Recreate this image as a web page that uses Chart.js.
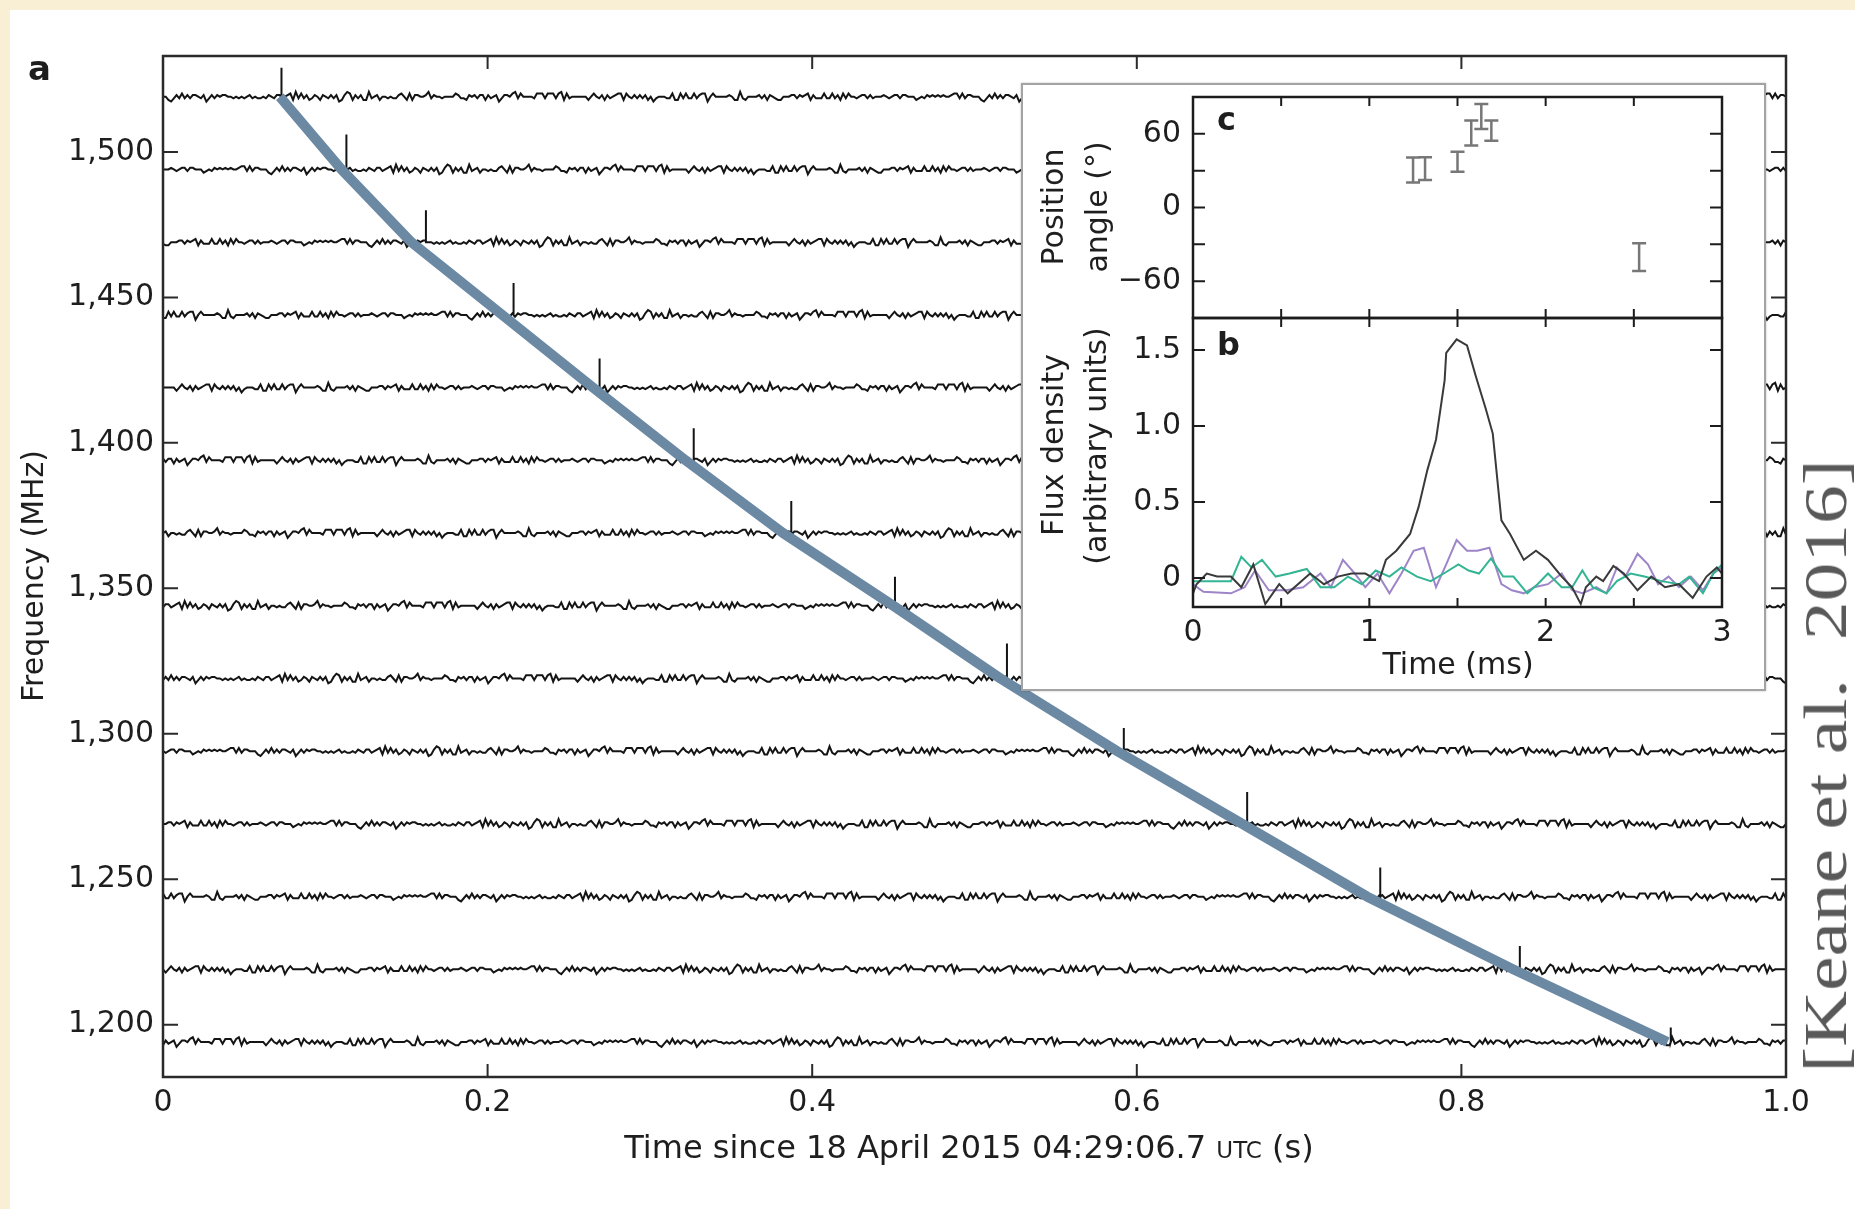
<!DOCTYPE html>
<html>
<head>
<meta charset="utf-8">
<script src="https://cdn.jsdelivr.net/npm/chart.js@4.4.1/dist/chart.umd.min.js"></script>
<style>
  html, body { margin: 0; padding: 0; }
  body { width: 1855px; height: 1209px; background: #f8efd4; position: relative; overflow: hidden; }
  #sheet { position: absolute; left: 10px; top: 10px; width: 1845px; height: 1199px; background: #fff; }
  #main { position: absolute; left: 0; top: 0; }
  #inset {
    position: absolute; left: 1021px; top: 83px; width: 745px; height: 608px;
    box-sizing: border-box; border: 2px solid #a3a3a3; background: #fff;
    box-shadow: 0 0 2px rgba(0, 0, 0, 0.25);
  }
  #insetC, #insetB { position: absolute; left: 0; }
  #insetC { top: 0; }
  #insetB { top: 223px; }
  #cite {
    position: absolute; left: 1825px; top: 766px;
    font-family: "Liberation Serif", "Times New Roman", serif; font-size: 62px; line-height: 62px;
    color: #595959; white-space: nowrap;
    transform: translate(-50%, -50%) rotate(-90deg) scaleX(1.25);
  }
</style>
</head>
<body>
<div id="sheet"></div>
<canvas id="main" width="1855" height="1209"></canvas>
<div id="inset">
  <canvas id="insetC" width="741" height="245"></canvas>
  <canvas id="insetB" width="741" height="381"></canvas>
</div>
<div id="cite">[Keane et al.&nbsp; 2016]</div>

<script>
// panel a: one noisy trace per frequency channel
const CHANNEL_MHZ = [1519, 1494, 1469, 1444, 1419, 1394, 1369, 1344, 1319, 1294, 1269, 1244, 1219, 1194];
const PULSE_TIME_S = [0.073, 0.113, 0.162, 0.216, 0.269, 0.327, 0.387, 0.451, 0.520, 0.592, 0.668, 0.750, 0.836, 0.929];
const PULSE_HEIGHT_MHZ = [10, 12, 11, 11, 10, 11, 11, 10, 12, 8, 11, 10, 8, 5];
// hand drawn dispersion sweep (blue)
const SWEEP_TIME_S = [0.072, 0.110, 0.153, 0.209, 0.265, 0.322, 0.382, 0.450, 0.516, 0.588, 0.665, 0.742, 0.832, 0.927];
// baseline wiggle, in steps of NOISE_STEP_MHZ
const NOISE = [
  0, 1, -1, 2, 0, -2, 1, 0, -1, 1, 3, -1, 0, 1, -2, 0, 2, -1, 1, 0,
  -1, -3, 1, 0, 2, -1, 0, 1, -1, 2, -2, 0, 1, 0, -1, 1, -2, 2, 0, -1,
  1, 0, -1, 3, -2, 0, 1, -1, 0, 2, -1, 1, 0, -2, 1, 0, -1, 2, 1, -1,
  0, -2, 1, 1, -1, 0, 2, -3, 1, 0, -1, 1, 0, 2, -1, 0, -1, 1, -2, 1,
  2, 0, -1, 0, 1, -1, 3, -1, 0, -2, 1, 0, 1, -1, 2, 0, -2, 1, -1, 0,
  1, 2, -1, 0, -1, 1, -2, 0, 2, -1, 0, 1, -3, 1, 0, -1, 2, 0, 1, -1,
  0, -1, 2, -2, 1, 0, 1, -1, 0, 3, -2, 1, 0, -1, 1, 0, -2, 2, -1, 0,
  1, -1, 0, 2, -1, 1, -2, 0, 1, 0, -1, 2, 0, -1, 1, -3, 2, 0, -1, 1,
  0, 1, -2, 1, 0, -1, 2, -1, 0, 1, -1, 0, 2, -2, 1, 0, 3, -1, 0, -1,
  1, 0, -1, 2, -2, 0, 1, -1, 1, 0, -2, 1, 0, 2, -1, 0, -1, 1, 0, -2,
  2, -1, 1, 0, -1, 1, 0, -3, 2, 0, -1, 1, -1, 2, 0, -1, 1, 0, -2, 1,
  0, 2, -1, 0, 1, -2, 1, -1, 0, 2, 0, -1, 3, -2, 1, 0, -1, 1, 0, -1,
  1, -2, 0, 1, 2, -1, 0, -1, 1, 0, -2, 2, -1, 1, 0, -1, 0, 2, -1, 0,
  -2, 1, 0, 1, -1, 2, -1, 0, -3, 1, 0, 2, -1, 1, 0, -1, 2, -2, 0, 1,
  0, -1, 1, 2, -2, 0, 1, -1, 0, 1, -2, 3, -1, 0, 1, -1, 0, 2, -1, 0
];
const NOISE_STEP_MHZ = 0.55;
const SAMPLES = 600;
const X_TICKS = [0, 0.2, 0.4, 0.6, 0.8, 1.0];
const Y_TICKS = [1200, 1250, 1300, 1350, 1400, 1450, 1500];

// panel c: position angle
const PA_TIME_MS = [1.248, 1.316, 1.50, 1.578, 1.635, 1.692, 2.53];
const PA_DEG = [30.6, 31.7, 37.3, 60.6, 74.2, 62.6, -40.5];
const PA_ERR_DEG = [10.2, 9.2, 8.2, 10.2, 10.2, 8.2, 11.3];
const PA_TICKS = [-60, -30, 0, 30, 60];
const PA_LABELS = [-60, 0, 60];

// panel b: flux density profiles
const TOTAL_T = [0, 0.02, 0.078, 0.137, 0.215, 0.274, 0.342, 0.41, 0.489, 0.537, 0.664, 0.743, 0.821, 0.899, 0.977, 1.055, 1.094, 1.153, 1.231, 1.28, 1.329, 1.378, 1.427, 1.436, 1.495, 1.554, 1.603, 1.661, 1.7, 1.749, 1.798, 1.876, 1.945, 2.013, 2.091, 2.15, 2.199, 2.228, 2.287, 2.326, 2.384, 2.443, 2.521, 2.599, 2.677, 2.756, 2.834, 2.912, 2.971, 3.0];
const TOTAL_I = [-0.10, -0.04, 0.03, 0.01, 0.01, -0.06, 0.09, -0.17, -0.04, -0.10, 0.03, -0.04, 0.01, 0.03, 0.03, -0.02, 0.12, 0.18, 0.29, 0.47, 0.71, 0.91, 1.30, 1.48, 1.57, 1.53, 1.33, 1.11, 0.95, 0.38, 0.29, 0.12, 0.18, 0.12, 0.01, -0.06, -0.17, -0.06, 0.01, -0.02, 0.08, 0.03, -0.08, 0.01, -0.06, -0.04, -0.13, 0.01, 0.07, 0.03];
const LIN_T = [0, 0.059, 0.215, 0.293, 0.352, 0.43, 0.528, 0.625, 0.723, 0.782, 0.85, 0.918, 0.977, 1.046, 1.114, 1.182, 1.251, 1.309, 1.378, 1.436, 1.495, 1.554, 1.612, 1.681, 1.749, 1.808, 1.876, 1.935, 2.013, 2.091, 2.15, 2.208, 2.287, 2.345, 2.404, 2.453, 2.521, 2.58, 2.638, 2.697, 2.756, 2.824, 2.892, 2.951, 3.0];
const LIN_I = [-0.04, -0.09, -0.10, -0.06, 0.05, -0.08, -0.08, -0.06, 0.03, -0.06, 0.12, 0.03, -0.06, 0.03, -0.10, 0.03, 0.18, 0.20, -0.06, 0.09, 0.25, 0.18, 0.18, 0.20, -0.04, -0.08, -0.10, -0.06, -0.04, 0.03, -0.08, -0.10, -0.06, -0.10, 0.07, 0.01, 0.16, 0.09, -0.04, 0.01, -0.06, 0.01, -0.08, 0.03, 0.07];
const CIRC_T = [0, 0.098, 0.215, 0.274, 0.332, 0.391, 0.469, 0.547, 0.645, 0.723, 0.801, 0.879, 0.958, 1.036, 1.114, 1.182, 1.27, 1.348, 1.436, 1.505, 1.563, 1.622, 1.69, 1.759, 1.817, 1.896, 1.954, 2.013, 2.091, 2.15, 2.208, 2.267, 2.345, 2.404, 2.482, 2.56, 2.658, 2.756, 2.814, 2.892, 2.951, 3.0];
const CIRC_I = [-0.02, -0.02, -0.02, 0.14, 0.07, 0.12, 0.01, 0.03, 0.06, -0.06, -0.06, 0.01, -0.04, 0.05, 0.01, 0.07, 0.01, -0.02, 0.04, 0.09, 0.05, 0.03, 0.13, 0.01, 0.01, -0.10, -0.04, 0.03, -0.06, -0.06, 0.05, -0.06, -0.10, -0.02, 0.03, 0.01, -0.02, -0.04, 0.01, -0.10, 0.03, 0.09];
const FLUX_TICKS = [0, 0.5, 1.0, 1.5];
const MS_TICKS = [0, 0.5, 1, 1.5, 2, 2.5, 3];
const MS_LABELS = [0, 1, 2, 3];

const TEXT = "#1e1e1e";
const FONT = "'DejaVu Sans', 'Liberation Sans', sans-serif";
Chart.defaults.font.family = FONT;
Chart.defaults.color = TEXT;

function zip(xs, ys) {
  return xs.map((x, i) => ({ x, y: ys[i] }));
}

function traceData(k) {
  const base = CHANNEL_MHZ[k];
  const n = NOISE.length;
  const t = PULSE_TIME_S[k];
  const points = [];
  let spikeDone = false;
  for (let i = 0; i < SAMPLES; i++) {
    const x = i / (SAMPLES - 1);
    if (!spikeDone && x > t) {
      points.push({ x: t, y: base });
      points.push({ x: t, y: base + PULSE_HEIGHT_MHZ[k] });
      points.push({ x: t, y: base });
      spikeDone = true;
    }
    points.push({ x, y: base + NOISE[(i * 7 + 41 * k) % n] * NOISE_STEP_MHZ });
  }
  return points;
}

// closed frame with inward ticks on all four sides
const framePlugin = {
  id: "frame",
  afterDatasetsDraw(chart, args, o) {
    const { ctx, chartArea: a, scales } = chart;
    ctx.save();
    ctx.strokeStyle = o.color;
    ctx.lineWidth = o.tickWidth;
    ctx.beginPath();
    o.xTicks.forEach((v) => {
      const p = scales.x.getPixelForValue(v);
      ctx.moveTo(p, a.bottom); ctx.lineTo(p, a.bottom - o.lenX);
      ctx.moveTo(p, a.top); ctx.lineTo(p, a.top + o.lenX);
    });
    o.yTicks.forEach((v) => {
      const p = scales.y.getPixelForValue(v);
      ctx.moveTo(a.left, p); ctx.lineTo(a.left + o.lenY, p);
      ctx.moveTo(a.right, p); ctx.lineTo(a.right - o.lenY, p);
    });
    ctx.stroke();
    ctx.lineWidth = o.width;
    ctx.strokeRect(a.left, a.top, a.right - a.left, a.bottom - a.top);
    ctx.restore();
  }
};

const textPlugin = {
  id: "texts",
  afterDraw(chart, args, o) {
    const ctx = chart.ctx;
    (o.items || []).forEach((it) => {
      ctx.save();
      ctx.translate(it.x, it.y);
      if (it.rotate) ctx.rotate(it.rotate);
      ctx.fillStyle = TEXT;
      ctx.textBaseline = it.baseline || "alphabetic";
      ctx.textAlign = "left";
      const parts = it.parts || [{ text: it.text, font: it.font }];
      let total = 0;
      parts.forEach((p) => { ctx.font = p.font; p.w = ctx.measureText(p.text).width; total += p.w; });
      let cx = it.align === "left" ? 0 : -total / 2;
      parts.forEach((p) => { ctx.font = p.font; ctx.fillText(p.text, cx, 0); cx += p.w; });
      ctx.restore();
    });
  }
};

const errorBarPlugin = {
  id: "errorBars",
  afterDatasetsDraw(chart, args, o) {
    const { ctx, scales: { x, y } } = chart;
    ctx.save();
    ctx.strokeStyle = o.color;
    ctx.lineWidth = o.width;
    ctx.beginPath();
    PA_TIME_MS.forEach((t, i) => {
      const px = x.getPixelForValue(t);
      const top = y.getPixelForValue(PA_DEG[i] + PA_ERR_DEG[i]);
      const bot = y.getPixelForValue(PA_DEG[i] - PA_ERR_DEG[i]);
      ctx.moveTo(px, top); ctx.lineTo(px, bot);
      ctx.moveTo(px - o.cap, top); ctx.lineTo(px + o.cap, top);
      ctx.moveTo(px - o.cap, bot); ctx.lineTo(px + o.cap, bot);
    });
    ctx.stroke();
    ctx.restore();
  }
};

function fixedTicks(values) {
  return (scale) => { scale.ticks = values.map((v) => ({ value: v })); };
}

// fixed axis size, and no extra room reserved for the end labels
function fixedWidth(w) {
  return (s) => { s.width = w; s.paddingTop = 0; s.paddingBottom = 0; };
}

const traces = CHANNEL_MHZ.map((f, k) => ({
  data: traceData(k),
  borderColor: "#141414",
  borderWidth: 2,
  pointRadius: 0
}));

const sweep = {
  data: zip(SWEEP_TIME_S, CHANNEL_MHZ),
  borderColor: "#6c89a4",
  borderWidth: 10,
  borderCapStyle: "butt",
  borderJoinStyle: "round",
  pointRadius: 0
};

new Chart(document.getElementById("main"), {
  type: "line",
  data: { datasets: [sweep, ...traces] },
  options: {
    animation: false,
    responsive: false,
    devicePixelRatio: 1,
    layout: { padding: { top: 56, right: 69, left: 0, bottom: 0 } },
    elements: { line: { tension: 0 } },
    plugins: {
      legend: { display: false },
      tooltip: { enabled: false },
      frame: { xTicks: X_TICKS, yTicks: Y_TICKS, lenX: 13, lenY: 15, color: "#2a2a2a", width: 2.5, tickWidth: 2 },
      texts: {
        items: [
          { text: "a", font: `bold 34px ${FONT}`, x: 28, y: 80, align: "left" },
          { text: "Frequency (MHz)", font: `30px ${FONT}`, x: 35, y: 576, rotate: -Math.PI / 2, baseline: "middle" },
          {
            x: 969, y: 1158,
            parts: [
              { text: "Time since 18 April 2015 04:29:06.7 ", font: `32px ${FONT}` },
              { text: "UTC", font: `23px ${FONT}` },
              { text: " (s)", font: `32px ${FONT}` }
            ]
          }
        ]
      }
    },
    scales: {
      x: {
        type: "linear", min: 0, max: 1,
        afterBuildTicks: fixedTicks(X_TICKS),
        afterFit: (s) => { s.height = 132; },
        grid: { display: false, drawTicks: false },
        border: { display: false },
        ticks: { font: { size: 30 }, padding: 8, maxRotation: 0, autoSkip: false,
          callback: (v) => (v === 0 ? "0" : v.toFixed(1)) }
      },
      y: {
        type: "linear", min: 1182, max: 1533,
        afterBuildTicks: fixedTicks(Y_TICKS),
        afterFit: fixedWidth(163),
        grid: { display: false, drawTicks: false },
        border: { display: false },
        ticks: { font: { size: 30 }, padding: 9, autoSkip: false,
          callback: (v) => v.toLocaleString("en-US") }
      }
    }
  },
  plugins: [framePlugin, textPlugin]
});

// inset c: position angle
new Chart(document.getElementById("insetC"), {
  type: "scatter",
  data: { datasets: [{ data: zip(PA_TIME_MS, PA_DEG), pointRadius: 0 }] },
  options: {
    animation: false,
    responsive: false,
    devicePixelRatio: 1,
    layout: { padding: { top: 12, right: 42, left: 0, bottom: 12 } },
    plugins: {
      legend: { display: false },
      tooltip: { enabled: false },
      frame: { xTicks: MS_TICKS, yTicks: PA_TICKS, lenX: 9, lenY: 12, color: "#1c1c1c", width: 2.5, tickWidth: 2 },
      errorBars: { color: "#777", width: 2.5, cap: 7 },
      texts: {
        items: [
          { text: "c", font: `bold 32px ${FONT}`, x: 194, y: 45, align: "left" },
          { text: "Position", font: `30px ${FONT}`, x: 32, y: 122, rotate: -Math.PI / 2, baseline: "middle" },
          { text: "angle (°)", font: `30px ${FONT}`, x: 76, y: 122, rotate: -Math.PI / 2, baseline: "middle" }
        ]
      }
    },
    scales: {
      x: { type: "linear", min: 0, max: 3, display: false },
      y: {
        type: "linear", min: -90, max: 90,
        afterBuildTicks: fixedTicks(PA_LABELS),
        afterFit: fixedWidth(170),
        grid: { display: false, drawTicks: false },
        border: { display: false },
        ticks: { font: { size: 30 }, padding: 12, autoSkip: false,
          callback: (v) => (v < 0 ? "\u2212" + Math.abs(v) : String(v)) }
      }
    }
  },
  plugins: [framePlugin, errorBarPlugin, textPlugin]
});

// inset b: flux density
new Chart(document.getElementById("insetB"), {
  type: "line",
  data: {
    datasets: [
      { data: zip(TOTAL_T, TOTAL_I), borderColor: "#3a3a3a", borderWidth: 2, pointRadius: 0 },
      { data: zip(CIRC_T, CIRC_I), borderColor: "#33b593", borderWidth: 2, pointRadius: 0 },
      { data: zip(LIN_T, LIN_I), borderColor: "#9d85c8", borderWidth: 2, pointRadius: 0 }
    ]
  },
  options: {
    animation: false,
    responsive: false,
    devicePixelRatio: 1,
    layout: { padding: { top: 10, right: 42, left: 0, bottom: 0 } },
    elements: { line: { tension: 0 } },
    plugins: {
      legend: { display: false },
      tooltip: { enabled: false },
      frame: { xTicks: MS_TICKS, yTicks: FLUX_TICKS, lenX: 9, lenY: 12, color: "#1c1c1c", width: 2.5, tickWidth: 2 },
      texts: {
        items: [
          { text: "b", font: `bold 32px ${FONT}`, x: 194, y: 47, align: "left" },
          { text: "Flux density", font: `30px ${FONT}`, x: 32, y: 137, rotate: -Math.PI / 2, baseline: "middle" },
          { text: "(arbitrary units)", font: `30px ${FONT}`, x: 75, y: 138, rotate: -Math.PI / 2, baseline: "middle" },
          { text: "Time (ms)", font: `30px ${FONT}`, x: 435, y: 358, baseline: "middle" }
        ]
      }
    },
    scales: {
      x: {
        type: "linear", min: 0, max: 3,
        afterBuildTicks: fixedTicks(MS_LABELS),
        afterFit: (s) => { s.height = 82; },
        grid: { display: false, drawTicks: false },
        border: { display: false },
        ticks: { font: { size: 30 }, padding: 8, maxRotation: 0, autoSkip: false }
      },
      y: {
        type: "linear", min: -0.19, max: 1.71,
        afterBuildTicks: fixedTicks(FLUX_TICKS),
        afterFit: fixedWidth(170),
        grid: { display: false, drawTicks: false },
        border: { display: false },
        ticks: { font: { size: 30 }, padding: 12, autoSkip: false,
          callback: (v) => (v === 0 ? "0" : v.toFixed(1)) }
      }
    }
  },
  plugins: [framePlugin, textPlugin]
});
</script>
</body>
</html>
